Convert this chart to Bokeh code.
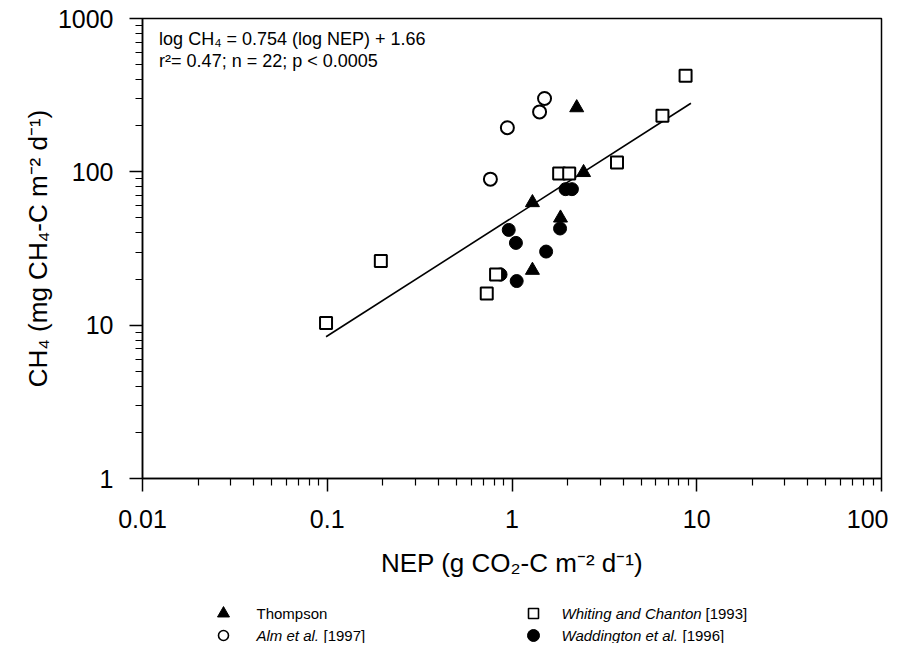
import math
from bokeh.plotting import figure
from bokeh.models import Range1d, FixedTicker, CustomJSTickFormatter, Label, Title
from bokeh.layouts import column
from bokeh.embed import file_html
from bokeh.resources import INLINE
from bokeh.core.properties import value

FONT = "Liberation Sans"

# ---------------- data ----------------
thompson_nep = [2.24, 2.44, 1.29, 1.83, 1.29]
thompson_ch4 = [262, 99, 63, 50, 22.8]

alm_nep = [1.50, 1.41, 0.944, 0.764]
alm_ch4 = [301, 246, 194, 89.6]

whiting_nep = [0.0985, 0.195, 0.82, 0.73, 1.80, 2.04, 3.70, 6.52, 8.7]
whiting_ch4 = [10.35, 26.2, 21.4, 16.1, 97.6, 97.6, 115, 232, 423]

wadd_nep = [0.96, 1.05, 1.53, 1.06, 1.82, 1.95, 2.11, 0.867]
wadd_ch4 = [41.8, 34.4, 30.2, 19.4, 42.7, 77.1, 77.1, 21.4]

fit_nep = [0.0985, 9.3]
fit_ch4 = [8.4, 280]

x_ticks = [0.01, 0.1, 1, 10, 100]
y_ticks = [1, 10, 100, 1000]

legend_labels = ["Thompson", "Alm et al.", "Whiting and Chanton", "Waddington et al."]
legend_years = ["", "[1997]", "[1993]", "[1996]"]

# ---------------- main plot ----------------
LEFT, RIGHT, TOP, BOTTOM = 142, 7, 18, 122
W, H_MAIN, H_LEG = 888, 600, 43

p = figure(width=W, height=H_MAIN, x_axis_type="log", y_axis_type="log",
           x_range=Range1d(0.01, 100), y_range=Range1d(1, 1000),
           output_backend="svg", toolbar_location=None,
           min_border_left=LEFT, min_border_right=RIGHT, min_border_top=TOP,
           min_border_bottom=BOTTOM)
p.xgrid.visible = False
p.ygrid.visible = False
p.outline_line_color = "black"
p.outline_line_width = 1.5
p.background_fill_color = "white"
p.border_fill_color = "white"


def minors(ticks):
    out = []
    for t in ticks[:-1]:
        out += [t * k for k in range(2, 10)]
    return out


fmt = CustomJSTickFormatter(code="return String(parseFloat(tick.toPrecision(6)));")
p.xaxis.ticker = FixedTicker(ticks=x_ticks, minor_ticks=minors(x_ticks))
p.yaxis.ticker = FixedTicker(ticks=y_ticks, minor_ticks=minors(y_ticks))
p.xaxis.formatter = fmt
p.yaxis.formatter = fmt

for ax in (p.xaxis[0], p.yaxis[0]):
    ax.axis_line_width = 1.5
    ax.axis_line_color = "black"
    ax.major_tick_line_width = 1.5
    ax.minor_tick_line_width = 1.2
    ax.major_tick_in = 0
    ax.minor_tick_in = 0
    ax.major_tick_out = 13
    ax.minor_tick_out = 7
    ax.major_label_text_font = FONT
    ax.major_label_text_font_size = "25px"
    ax.major_label_text_color = "black"

p.xaxis.major_label_standoff = 18
p.yaxis.major_label_standoff = 16

# x title as axis label
p.xaxis.axis_label = "NEP (g CO\u2082-C m\u207b\u00b2 d\u207b\u00b9)"
p.xaxis.axis_label_text_font = FONT
p.xaxis.axis_label_text_font_size = "26px"
p.xaxis.axis_label_text_font_style = "normal"
p.xaxis.axis_label_text_color = "black"
p.xaxis.axis_label_standoff = 17

# y title
p.add_layout(Title(text="CH\u2084 (mg CH\u2084-C m\u207b\u00b2 d\u207b\u00b9)", align="center",
                   offset=32, text_font=FONT, text_font_size="26px",
                   text_font_style="normal", text_color="black", standoff=4), "left")

# regression line
p.line(fit_nep, fit_ch4, line_color="black", line_width=1.6)

# data
p.scatter(wadd_nep, wadd_ch4, marker="circle", size=13, fill_color="black",
          line_color="black")
p.scatter(whiting_nep, whiting_ch4, marker="square", size=12, fill_color="white",
          line_color="black", line_width=2)
p.scatter(alm_nep, alm_ch4, marker="circle", size=13, fill_color="white",
          line_color="black", line_width=2)
p.scatter(thompson_nep, thompson_ch4, marker="triangle", size=14, fill_color="black",
          line_color="black")

# regression annotation
p.add_layout(Label(x=0.0123, y=731, text="log CH\u2084 = 0.754 (log NEP) + 1.66",
                   text_font=FONT, text_font_size="18px", text_baseline="middle",
                   text_color="black"))
p.add_layout(Label(x=0.0123, y=525, text="r\u00b2= 0.47; n = 22; p < 0.0005",
                   text_font=FONT, text_font_size="18px", text_baseline="middle",
                   text_color="black"))

# ---------------- legend strip (x in page pixels) ----------------
leg = figure(width=W, height=H_LEG, x_range=Range1d(LEFT, W - RIGHT),
             y_range=Range1d(H_LEG, 0),
             output_backend="svg", toolbar_location=None,
             min_border_left=LEFT, min_border_right=RIGHT, min_border_top=0,
             min_border_bottom=0, x_axis_location=None, y_axis_location=None)
leg.xgrid.visible = False
leg.ygrid.visible = False
leg.outline_line_color = None

mx = [223, 223, 533, 533]
my = [13, 35, 13, 35]
tx = [256, 256, 561, 561]
year_dx = [0, 67, 144, 121]

leg.scatter([mx[0]], [my[0]], marker="triangle", size=12, fill_color="black", line_color="black")
leg.scatter([mx[1]], [my[1]], marker="circle", size=10, fill_color="white", line_color="black", line_width=1.6)
leg.scatter([mx[2]], [my[2]], marker="square", size=10, fill_color="white", line_color="black", line_width=1.6)
leg.scatter([mx[3]], [my[3]], marker="circle", size=12, fill_color="black", line_color="black")

styles = ["normal", "italic", "italic", "italic"]
leg.text(x=tx, y=my, text=legend_labels, text_font=value(FONT), text_font_size="15px",
         text_baseline="middle", text_align="left", text_color="black",
         text_font_style=styles)
leg.text(x=[t + d for t, d in zip(tx[1:], year_dx[1:])], y=my[1:], text=legend_years[1:],
         text_font=value(FONT), text_font_size="15px", text_baseline="middle",
         text_align="left", text_color="black")

layout = column(p, leg, spacing=0)
open("out.html", "w").write(file_html(layout, INLINE))
